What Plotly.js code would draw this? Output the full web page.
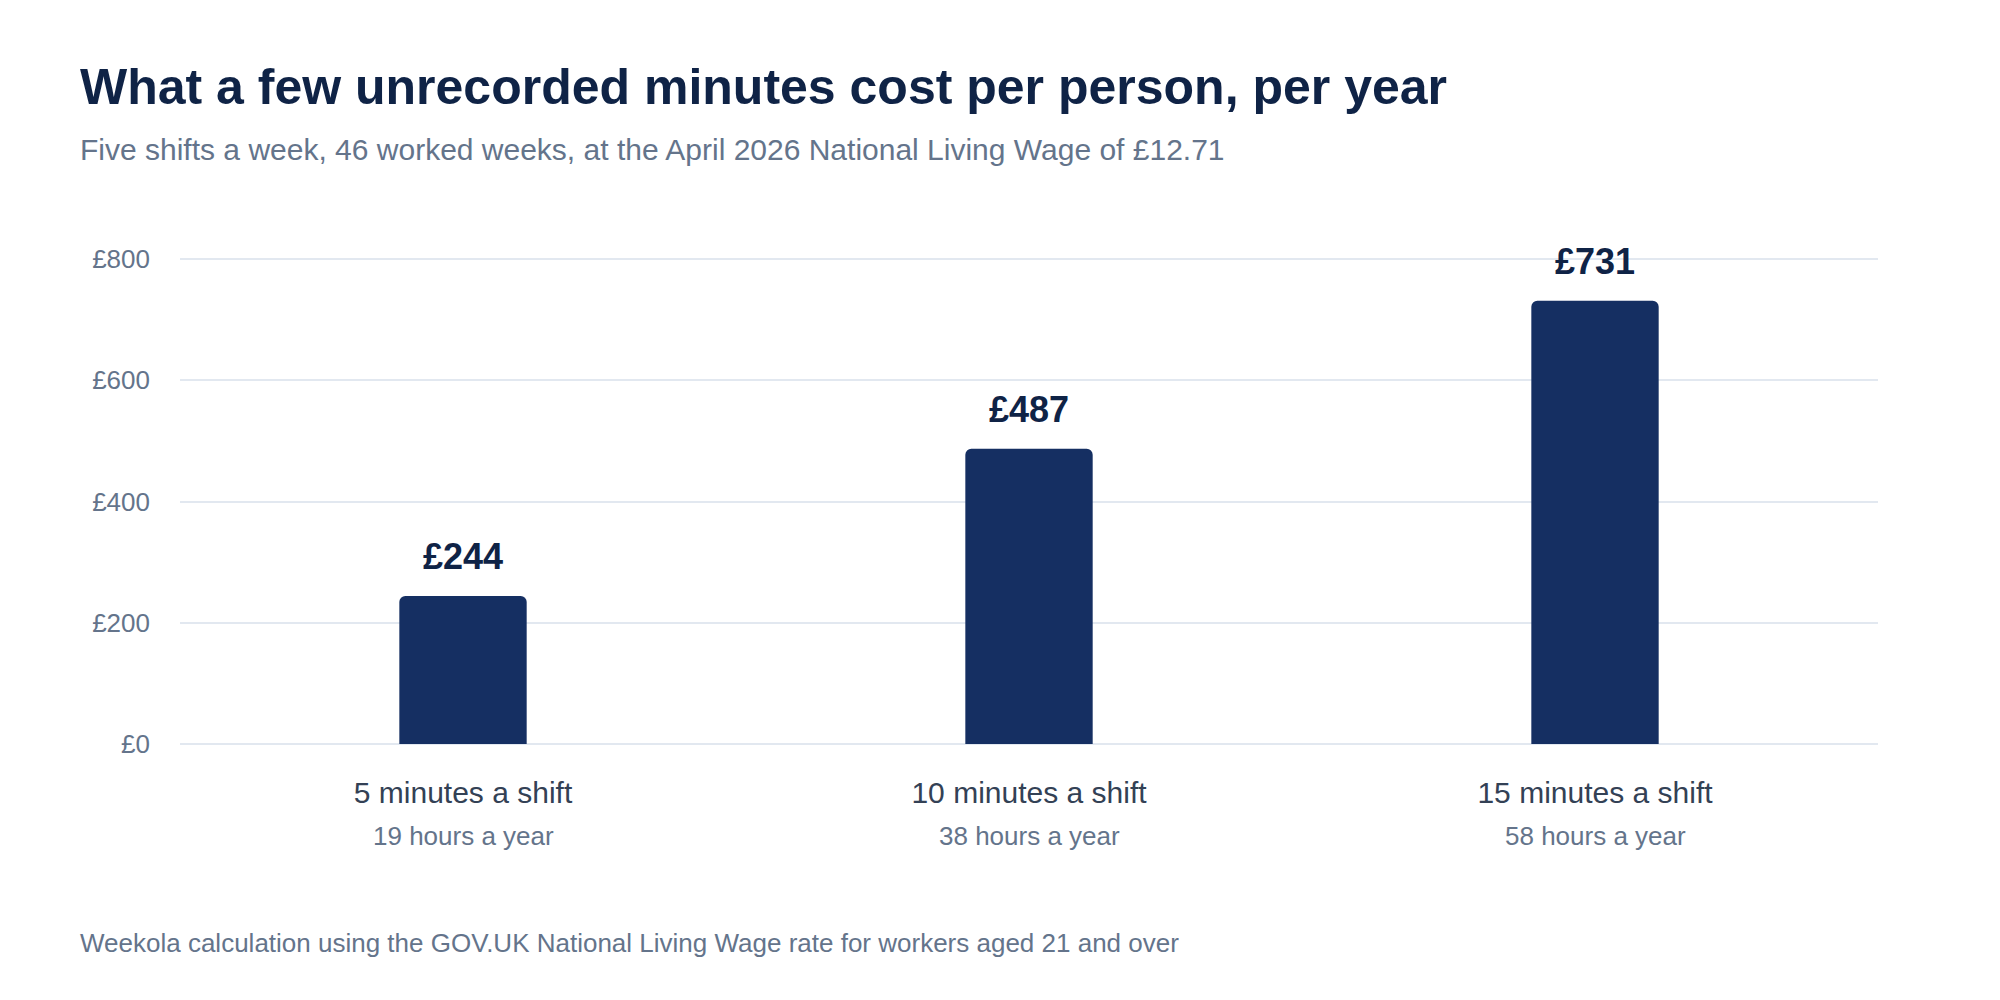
<!DOCTYPE html>
<html>
<head>
<meta charset="utf-8">
<script src="https://cdn.plot.ly/plotly-3.0.1.min.js"></script>
<style>
  html, body { margin: 0; padding: 0; background: #ffffff; }
  #chart { width: 2000px; height: 1000px; }
</style>
</head>
<body>
<div id="chart"></div>
<script>
    // values
    var categories = ['5 minutes a shift', '10 minutes a shift', '15 minutes a shift'];
    var hoursLabels = ['19 hours a year', '38 hours a year', '58 hours a year'];
    var annualCost = [244, 487, 731];
    var valueLabels = ['£244', '£487', '£731'];
    var yTickVals = [0, 200, 400, 600, 800];
    var yTickText = ['£0', '£200', '£400', '£600', '£800'];

    var font = '"Liberation Sans", Arial, Helvetica, sans-serif';
    var navy = '#0f2346';
    var slate = '#64748b';

    var data = [{
        x: categories,
        y: annualCost,
        type: 'bar',
        marker: { color: '#152f62', cornerradius: 6 },
        hoverinfo: 'skip',
        showlegend: false
    }];

    var annotations = [];
    categories.forEach(function (cat, i) {
        annotations.push({
            x: cat, y: annualCost[i], xref: 'x', yref: 'y',
            text: '<b>' + valueLabels[i] + '</b>',
            showarrow: false, yanchor: 'bottom', yshift: 17,
            font: { family: font, size: 36, color: navy }
        });
        annotations.push({
            x: cat, y: 0, xref: 'x', yref: 'paper',
            text: hoursLabels[i],
            showarrow: false, yanchor: 'middle', yshift: -92,
            font: { family: font, size: 26, color: slate }
        });
    });

    // subtitle and source note, placed relative to the plot area
    annotations.push({
        x: 0, y: 1, xref: 'paper', yref: 'paper',
        xshift: -102, yshift: 107,
        xanchor: 'left', yanchor: 'middle', showarrow: false,
        text: 'Five shifts a week, 46 worked weeks, at the April 2026 National Living Wage of £12.71',
        font: { family: font, size: 30, color: slate }
    });
    annotations.push({
        x: 0, y: 0, xref: 'paper', yref: 'paper',
        xshift: -102, yshift: -199,
        xanchor: 'left', yanchor: 'middle', showarrow: false,
        text: 'Weekola calculation using the GOV.UK National Living Wage rate for workers aged 21 and over',
        font: { family: font, size: 26, color: slate }
    });

    var layout = {
        width: 2000,
        height: 1000,
        paper_bgcolor: '#ffffff',
        plot_bgcolor: '#ffffff',
        margin: { l: 180, r: 122, t: 256, b: 256 },
        font: { family: font },
        title: {
            text: '<b>What a few unrecorded minutes cost per person, per year</b>',
            font: { family: font, size: 50, color: navy },
            x: 0.04, xanchor: 'left', xref: 'container',
            y: 0.914, yanchor: 'middle', yref: 'container'
        },
        bargap: 0.775,
        xaxis: {
            type: 'category',
            range: [-0.5, 2.5],
            showgrid: false,
            zeroline: false,
            showline: false,
            ticks: '',
            ticklabelstandoff: 28,
            tickfont: { family: font, size: 30, color: '#334155' },
            fixedrange: true
        },
        yaxis: {
            range: [0, 805],
            tickvals: yTickVals,
            ticktext: yTickText,
            showgrid: true,
            gridcolor: '#e2e8f0',
            gridwidth: 2,
            zeroline: true,
            zerolinecolor: '#e2e8f0',
            zerolinewidth: 2,
            showline: false,
            ticks: '',
            ticklabelstandoff: 29,
            tickfont: { family: font, size: 26, color: slate },
            fixedrange: true
        },
        annotations: annotations
    };

    Plotly.newPlot('chart', data, layout, { displayModeBar: false, staticPlot: true });
</script>
</body>
</html>
